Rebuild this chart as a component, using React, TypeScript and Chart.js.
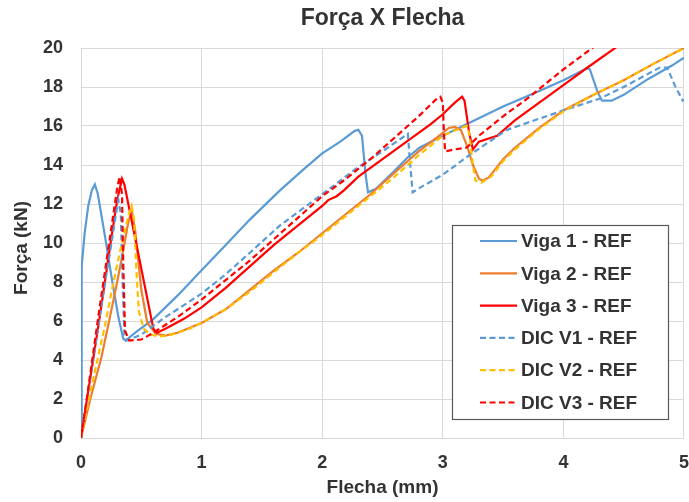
import React, { useEffect, useRef } from "react";
import { Chart, registerables } from "chart.js";

Chart.register(...registerables);

const chartTitle = "Força X Flecha";
const xAxisTitle = "Flecha (mm)";
const yAxisTitle = "Força (kN)";
const xTickValues = [0, 1, 2, 3, 4, 5];
const yTickValues = [0, 2, 4, 6, 8, 10, 12, 14, 16, 18, 20];

const seriesNames = [
  "Viga 1 - REF",
  "Viga 2 - REF",
  "Viga 3 - REF",
  "DIC V1 - REF",
  "DIC V2 - REF",
  "DIC V3 - REF",
];
const seriesColors = ["#5B9BD5", "#ED7D31", "#FF0000", "#5B9BD5", "#FFC000", "#FF0000"];
const seriesDashed = [false, false, false, true, true, true];

const viga1: [number, number][] = [
  [0, 0], [0.003, 3], [0.006, 7.4], [0.008, 8.8], [0.03, 10.5], [0.06, 11.9], [0.09, 12.7],
  [0.115, 13.0], [0.14, 12.5], [0.2, 10.3], [0.26, 8.0], [0.31, 6.2], [0.35, 5.1], [0.37, 5.0],
  [0.45, 5.4], [0.6, 6.1], [0.8, 7.3], [1.0, 8.6], [1.2, 9.9], [1.4, 11.2], [1.65, 12.7],
  [1.85, 13.8], [2.0, 14.6], [2.15, 15.2], [2.27, 15.75], [2.3, 15.8], [2.33, 15.5],
  [2.36, 13.5], [2.38, 12.6], [2.45, 12.8], [2.6, 13.7], [2.71, 14.4], [2.81, 14.9],
  [3.0, 15.5], [3.2, 16.1], [3.5, 17.0], [3.8, 17.8], [4.0, 18.35], [4.2, 18.97],
  [4.22, 18.9], [4.28, 17.8], [4.32, 17.3], [4.4, 17.3], [4.5, 17.6], [4.7, 18.4],
  [4.9, 19.1], [5.0, 19.5],
];

const viga2: [number, number][] = [
  [0, 0], [0.075, 1.95], [0.17, 4.15], [0.24, 6.2], [0.3, 8.0], [0.35, 9.6], [0.39, 11.0],
  [0.42, 11.7], [0.45, 10.6], [0.5, 7.6], [0.55, 5.9], [0.62, 5.35], [0.7, 5.25], [0.8, 5.4],
  [1.0, 5.9], [1.2, 6.6], [1.4, 7.6], [1.6, 8.6], [1.8, 9.5], [2.0, 10.5], [2.2, 11.5],
  [2.4, 12.5], [2.6, 13.6], [2.8, 14.7], [2.95, 15.4], [3.05, 15.9], [3.1, 15.95],
  [3.15, 15.8], [3.2, 15.0], [3.25, 14.0], [3.3, 13.3], [3.33, 13.2], [3.38, 13.35],
  [3.45, 13.9], [3.5, 14.3], [3.6, 14.9], [3.8, 15.9], [4.0, 16.8], [4.25, 17.6],
  [4.5, 18.35], [4.75, 19.2], [5.0, 20.0],
];

const viga3: [number, number][] = [
  [0, 0], [0.05, 2.0], [0.1, 4.0], [0.15, 6.0], [0.2, 8.1], [0.25, 10.2], [0.3, 12.2],
  [0.34, 13.3], [0.36, 13.0], [0.6, 5.6], [0.63, 5.4],
  [0.7, 5.6], [0.85, 6.1], [1.0, 6.7], [1.2, 7.7], [1.4, 8.8], [1.6, 9.9], [1.8, 10.9],
  [2.0, 11.9], [2.05, 12.2], [2.12, 12.4], [2.18, 12.7], [2.3, 13.4], [2.5, 14.3],
  [2.7, 15.2], [2.9, 16.1], [3.0, 16.6], [3.1, 17.2], [3.16, 17.5], [3.18, 17.3],
  [3.22, 15.6], [3.25, 14.8], [3.3, 15.2], [3.45, 15.5], [3.6, 16.3], [3.8, 17.2],
  [4.0, 18.1], [4.2, 19.0], [4.44, 20.05],
];

const dicV1: [number, number][] = [
  [0, 0], [0.05, 2.0], [0.1, 4.0], [0.15, 6.0], [0.2, 8.0], [0.25, 9.9], [0.29, 11.5],
  [0.31, 12.2], [0.33, 11.5], [0.345, 8.0], [0.36, 5.2], [0.38, 5.0], [0.5, 5.3], [0.7, 6.2],
  [1.0, 7.4], [1.2, 8.4], [1.4, 9.5], [1.65, 10.9], [2.0, 12.5], [2.3, 13.9], [2.5, 14.7],
  [2.71, 15.6], [2.73, 14.0], [2.75, 12.6], [2.8, 12.8], [3.0, 13.5], [3.22, 14.5],
  [3.53, 15.8], [4.0, 16.8], [4.3, 17.4], [4.5, 18.0], [4.8, 19.0], [4.86, 19.0],
  [4.93, 18.0], [4.99, 17.3], [5.0, 17.35],
];

const dicV2: [number, number][] = [
  [0, 0], [0.05, 1.5], [0.1, 3.0], [0.15, 4.4], [0.2, 5.8], [0.25, 7.4], [0.3, 8.9],
  [0.35, 10.3], [0.39, 11.3], [0.42, 11.9], [0.44, 11.2], [0.46, 8.5], [0.48, 6.5],
  [0.52, 5.6], [0.58, 5.3], [0.65, 5.2], [0.75, 5.3], [0.9, 5.6], [1.0, 5.9], [1.2, 6.6],
  [1.4, 7.5], [1.6, 8.5], [1.8, 9.5], [2.0, 10.4], [2.2, 11.4], [2.4, 12.4], [2.6, 13.4],
  [2.8, 14.5], [3.0, 15.5], [3.15, 15.9], [3.2, 16.0], [3.22, 15.6], [3.25, 14.0],
  [3.27, 13.2], [3.32, 13.1], [3.4, 13.4], [3.5, 14.2], [3.6, 14.8], [3.8, 15.85],
  [4.0, 16.75], [4.25, 17.6], [4.5, 18.35], [4.75, 19.2], [5.0, 20.0],
];

const dicV3: [number, number][] = [
  [0, 0], [0.05, 2.1], [0.1, 4.3], [0.15, 6.5], [0.2, 8.6], [0.25, 10.7], [0.3, 12.8],
  [0.32, 13.4], [0.34, 12.5], [0.35, 9.0], [0.365, 5.5], [0.4, 5.0], [0.5, 5.05], [0.6, 5.4],
  [0.8, 6.2], [1.0, 7.1], [1.2, 8.1], [1.4, 9.1], [1.6, 10.2], [1.8, 11.3], [2.0, 12.4],
  [2.2, 13.3], [2.4, 14.3], [2.6, 15.4], [2.8, 16.5], [2.95, 17.4], [2.98, 17.5],
  [3.0, 17.2], [3.01, 15.5], [3.02, 14.7], [3.1, 14.8], [3.2, 14.9], [3.3, 15.5],
  [3.5, 16.5], [3.7, 17.4], [4.0, 18.9], [4.25, 20.05],
];

const seriesData = [viga1, viga2, viga3, dicV1, dicV2, dicV3];

const FONT = '"Liberation Sans", Arial, sans-serif';
const TEXT = "#333333";
const GRID = "#d9d9d9";
const DASH = [6, 3.5];

const titlePlugin = {
  id: "customTitle",
  afterDraw(chart: any) {
    const { ctx, chartArea } = chart;
    ctx.save();
    ctx.fillStyle = TEXT;
    ctx.textAlign = "center";
    ctx.textBaseline = "middle";
    ctx.font = `bold 23px ${FONT}`;
    ctx.fillText(chartTitle, (chartArea.left + chartArea.right) / 2, 19);
    ctx.font = `bold 19px ${FONT}`;
    ctx.translate(22, (chartArea.top + chartArea.bottom) / 2 + 5);
    ctx.rotate(-Math.PI / 2);
    ctx.fillText(yAxisTitle, 0, 0);
    ctx.restore();
  },
};

const legendPlugin = {
  id: "customLegend",
  afterDraw(chart: any) {
    const { ctx } = chart;
    const left = 452, top = 225, right = 668, bottom = 419;
    ctx.save();
    ctx.fillStyle = "#ffffff";
    ctx.fillRect(left, top, right - left, bottom - top);
    ctx.strokeStyle = "#595959";
    ctx.lineWidth = 1.2;
    ctx.strokeRect(left + 0.5, top + 0.5, right - left, bottom - top);
    ctx.font = `bold 19px ${FONT}`;
    ctx.textAlign = "left";
    ctx.textBaseline = "middle";
    seriesNames.forEach((name, i) => {
      const y = 241 + i * 32.3;
      ctx.beginPath();
      ctx.strokeStyle = seriesColors[i];
      ctx.lineWidth = 2.2;
      ctx.setLineDash(seriesDashed[i] ? DASH : []);
      ctx.moveTo(480, y);
      ctx.lineTo(517, y);
      ctx.stroke();
      ctx.setLineDash([]);
      ctx.fillStyle = TEXT;
      ctx.fillText(name, 521, y + 1);
    });
    ctx.restore();
  },
};

export default function App() {
  const ref = useRef<HTMLCanvasElement>(null);
  useEffect(() => {
    const chart = new Chart(ref.current!, {
      type: "line",
      data: {
        datasets: seriesNames.map((name, i) => ({
          label: name,
          data: seriesData[i].map(([x, y]) => ({ x, y })),
          borderColor: seriesColors[i],
          backgroundColor: seriesColors[i],
          borderWidth: 2.2,
          borderDash: seriesDashed[i] ? DASH : [],
          pointRadius: 0,
          tension: 0,
          fill: false,
          order: seriesNames.length - i,
        })),
      },
      options: {
        animation: false,
        responsive: false,
        layout: { padding: { top: 48, right: 5, left: 0, bottom: 0 } },
        plugins: {
          legend: { display: false },
          title: { display: false },
          tooltip: { enabled: false },
        },
        scales: {
          x: {
            type: "linear",
            min: 0,
            max: 5,
            afterBuildTicks: (scale: any) => {
              scale.ticks = xTickValues.map((v) => ({ value: v }));
            },
            ticks: {
              color: TEXT,
              font: { family: FONT, size: 18, weight: "bold" },
              padding: 0,
            },
            grid: { color: GRID, drawTicks: true, tickLength: 14, tickColor: "rgba(0,0,0,0)", lineWidth: 1 },
            border: { color: GRID },
            title: {
              display: true,
              text: xAxisTitle,
              color: TEXT,
              font: { family: FONT, size: 19, weight: "bold" },
              padding: { top: 0, bottom: 3 },
            },
            afterFit: (scale: any) => {
              scale.height = 64;
            },
          },
          y: {
            type: "linear",
            min: 0,
            max: 20,
            afterBuildTicks: (scale: any) => {
              scale.ticks = yTickValues.map((v) => ({ value: v }));
            },
            ticks: {
              color: TEXT,
              font: { family: FONT, size: 18, weight: "bold" },
              padding: 18,
            },
            grid: { color: GRID, drawTicks: false, lineWidth: 1 },
            border: { color: GRID },
            title: { display: false },
            afterFit: (scale: any) => {
              scale.width = 81;
            },
          },
        },
      },
      plugins: [titlePlugin, legendPlugin],
    } as any);
    return () => chart.destroy();
  }, []);
  return (
    <div style={{ position: "absolute", left: 0, top: 0, width: 689, height: 502, background: "#fff" }}>
      <canvas ref={ref} width={689} height={502} style={{ display: "block" }} />
    </div>
  );
}
